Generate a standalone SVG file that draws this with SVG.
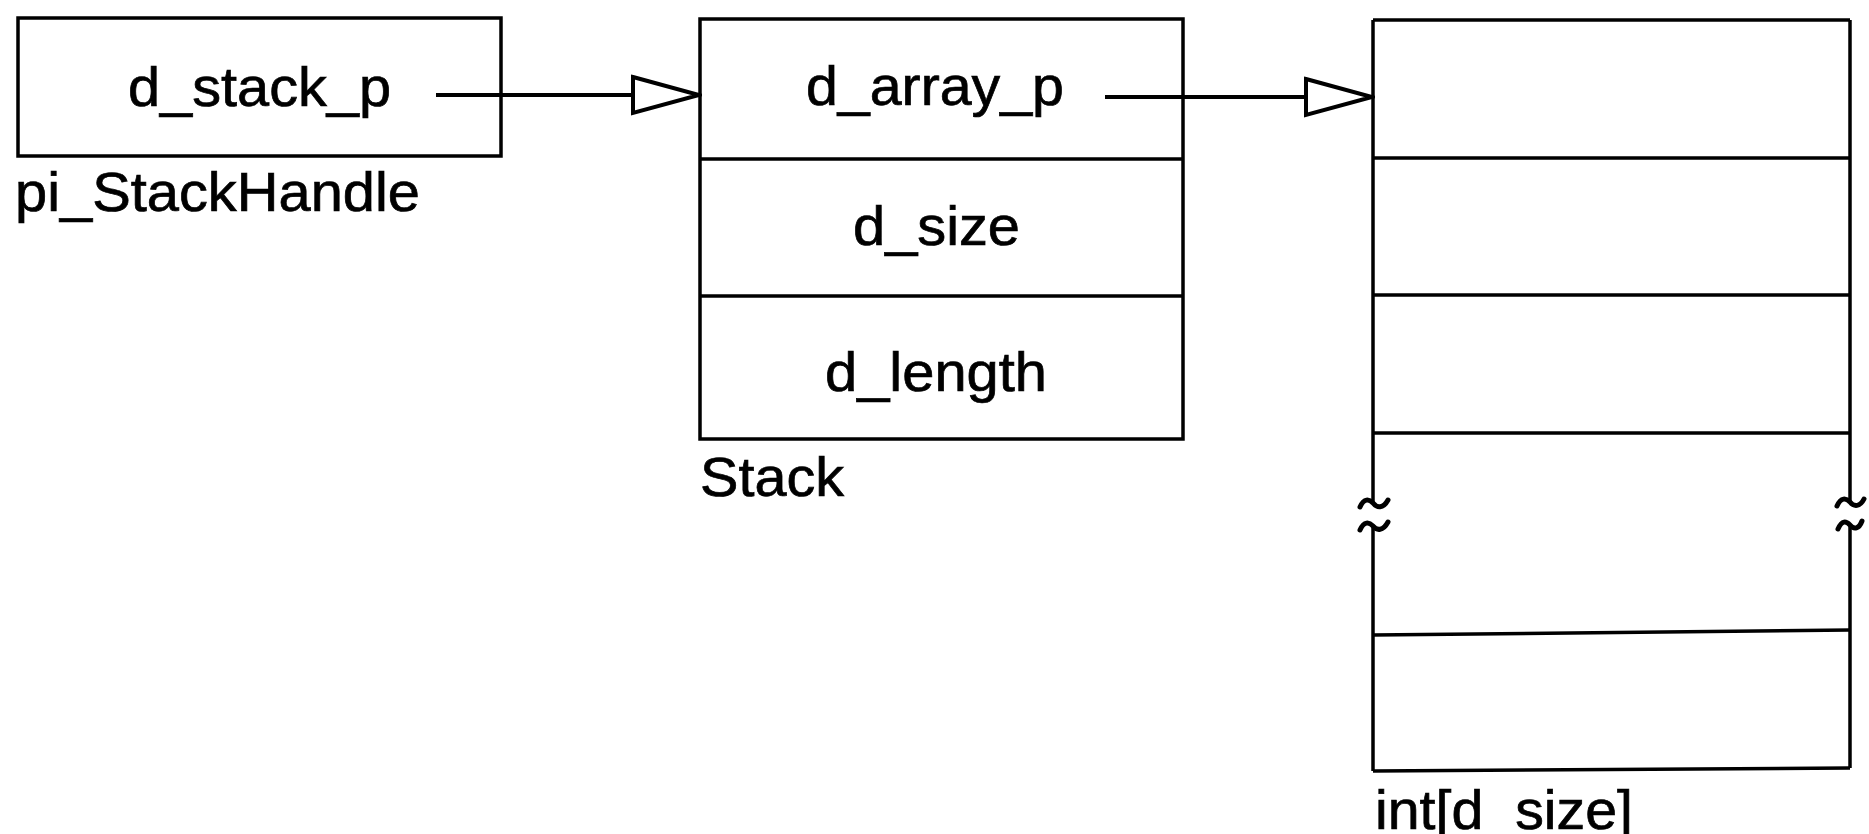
<svg xmlns="http://www.w3.org/2000/svg" width="1869" height="834" viewBox="0 0 1869 834">
  <style>
    .box { fill: none; stroke: #000; stroke-width: 3.5; }
    .ln { fill: none; stroke: #000; stroke-width: 3.5; }
    .tl { fill: none; stroke: #000; stroke-width: 5; stroke-linecap: round; }
    .conn { fill: none; stroke: #000; stroke-width: 4; }
    .t { font-family: "Liberation Sans", Arial, Helvetica, sans-serif; font-size: 55px; fill: #000; stroke: #000; stroke-width: 0.7; }
    .c { text-anchor: middle; }
  </style>
  <defs>
    <marker id="hollow" markerUnits="userSpaceOnUse" markerWidth="72" markerHeight="42" viewBox="-3 -3 72 42" refX="66" refY="18" orient="auto">
      <path d="M0,0 L66,18 L0,36 Z" fill="#fff" stroke="#000" stroke-width="4" stroke-linejoin="miter"/>
    </marker>
  </defs>
  <rect width="1869" height="834" fill="#fff"/>

  <g id="pi_StackHandle">
    <rect class="box" x="18" y="18" width="483" height="138"/>
    <text class="t" x="128" y="106" textLength="263" lengthAdjust="spacingAndGlyphs">d_stack_p</text>
    <text class="t" x="15" y="211" textLength="405" lengthAdjust="spacingAndGlyphs">pi_StackHandle</text>
  </g>

  <g id="Stack">
    <rect class="box" x="700" y="19" width="483" height="420"/>
    <line class="ln" x1="700" y1="159" x2="1183" y2="159"/>
    <line class="ln" x1="700" y1="296" x2="1183" y2="296"/>
    <text class="t" x="806" y="105" textLength="258" lengthAdjust="spacingAndGlyphs">d_array_p</text>
    <text class="t" x="853" y="245" textLength="167" lengthAdjust="spacingAndGlyphs">d_size</text>
    <text class="t" x="825" y="391" textLength="222" lengthAdjust="spacingAndGlyphs">d_length</text>
    <text class="t" x="700" y="496" textLength="144" lengthAdjust="spacingAndGlyphs">Stack</text>
  </g>

  <g id="int_array">
    <line class="ln" x1="1373" y1="20" x2="1850" y2="20"/>
    <line class="ln" x1="1373" y1="158" x2="1850" y2="158"/>
    <line class="ln" x1="1373" y1="295" x2="1850" y2="295"/>
    <line class="ln" x1="1373" y1="433" x2="1850" y2="433"/>
    <line class="ln" x1="1373" y1="635" x2="1850" y2="630"/>
    <line class="ln" x1="1373" y1="771" x2="1850" y2="768"/>
    <path class="ln" d="M1373,20 L1373,504"/>
    <path class="ln" d="M1373,525 L1373,771"/>
    <path class="ln" d="M1850,20 L1850,502"/>
    <path class="ln" d="M1850,524 L1850,768"/>
    <path class="tl" d="M1360,507 C1364,498 1369,499 1373,503 C1377,508 1383,509 1388,500"/>
    <path class="tl" d="M1360,530 C1364,521 1369,522 1373,526 C1377,531 1383,531 1388,522"/>
    <path class="tl" d="M1837,506 C1841,497 1846,498 1850,502 C1854,507 1860,507 1864,499"/>
    <path class="tl" d="M1838,529 C1842,520 1846,521 1850,525 C1854,530 1859,529 1862,521"/>
    <text class="t" x="1375" y="829" textLength="258" lengthAdjust="spacingAndGlyphs">int[d_size]</text>
  </g>

  <g id="connectors">
    <line class="conn" x1="436" y1="95" x2="699" y2="95" marker-end="url(#hollow)"/>
    <line class="conn" x1="1105" y1="97" x2="1372" y2="97" marker-end="url(#hollow)"/>
  </g>
</svg>
